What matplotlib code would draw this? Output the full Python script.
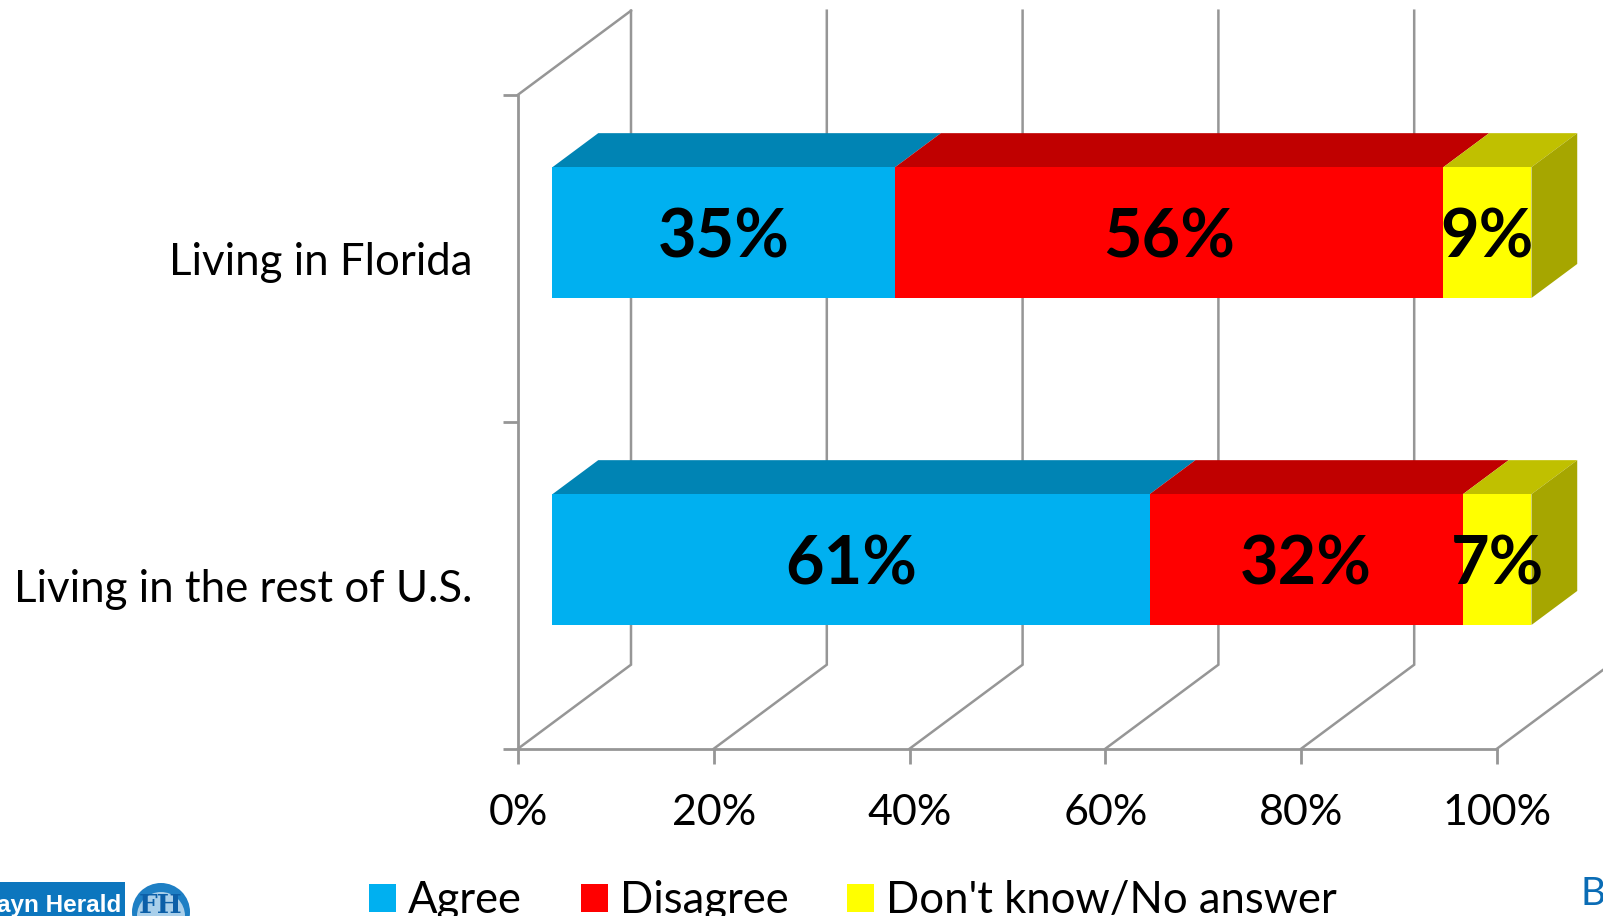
import matplotlib
matplotlib.use("Agg")
import matplotlib.pyplot as plt
from matplotlib.patches import Patch, Rectangle, Circle

categories = ["Living in the rest of U.S.", "Living in Florida"]
series_names = ["Agree", "Disagree", "Don't know/No answer"]
agree = [61, 35]
disagree = [32, 56]
dont_know = [7, 9]
x_ticks = [0, 20, 40, 60, 80, 100]

W, H = 1603, 916
FONT = "Lato"
GRID = "#969696"
front = ["#00B0F0", "#FF0000", "#FFFF00"]
top = ["#0084B4", "#C00000", "#C0C000"]
side = "#A6A600"

fig = plt.figure(figsize=(W / 100, H / 100), dpi=100)
ax = fig.add_axes([518 / W, 1 - 748.7 / H, 979 / W, 654 / H])
ax.set_xlim(0, 100)
ax.set_ylim(0, 2)

DX = 113 / 979 * 100
DY = 84 / 654 * 2


def proj(x, y, d):
    return x + d * DX, y + d * DY


# walls and floor
for s in ("top", "right"):
    ax.spines[s].set_visible(False)
for s in ("left", "bottom"):
    ax.spines[s].set_color(GRID)
    ax.spines[s].set_linewidth(2.0)
ax.patch.set_visible(False)
for t in x_ticks:
    bx, by = proj(t, 0, 1)
    tx, ty = proj(t, 2, 1)
    ax.plot([t, bx, tx], [0, by, ty], color=GRID, lw=1.8, clip_on=False, zorder=1,
            solid_joinstyle="miter")
bx, by = proj(0, 2, 1)
ax.plot([0, bx], [2, by], color=GRID, lw=1.8, clip_on=False, zorder=1)

ax.set_xticks(x_ticks, [f"{t}%" for t in x_ticks], fontsize=31, family=FONT)
ax.set_yticks([0, 1, 2], ["", "", ""])
ax.tick_params(axis="both", color=GRID, width=2.0, length=10.5)
ax.tick_params(axis="x", pad=22)
ax.set_yticks([0.5, 1.5], categories, minor=True, fontsize=31.5, family=FONT)
ax.tick_params(axis="y", which="minor", length=0, pad=33)
for lab in ax.get_yticklabels(minor=True):
    lab.set_verticalalignment("center_baseline")

# bars
D0, D1 = 0.305, 0.71
HALF = 0.2
for i, vals in enumerate(zip(agree, disagree, dont_know)):
    yc = i + 0.5
    lo, hi = yc - HALF, yc + HALF
    left = 0
    for j, v in enumerate(vals):
        right = left + v
        # top face
        pts = [proj(left, hi, D0), proj(right, hi, D0), proj(right, hi, D1), proj(left, hi, D1)]
        ax.fill(*zip(*pts), color=top[j], lw=0, clip_on=False, zorder=3)
        # front face
        pts = [proj(left, lo, D0), proj(right, lo, D0), proj(right, hi, D0), proj(left, hi, D0)]
        ax.fill(*zip(*pts), color=front[j], lw=0, clip_on=False, zorder=4)
        cx, cy = proj((left + right) / 2, yc, D0)
        ax.text(cx, cy, f"{v}%", ha="center", va="center_baseline", fontsize=48, fontweight="bold",
                family=FONT, color="black", zorder=6, clip_on=False)
        left = right
    pts = [proj(left, lo, D0), proj(left, lo, D1), proj(left, hi, D1), proj(left, hi, D0)]
    ax.fill(*zip(*pts), color=side, lw=0, clip_on=False, zorder=3)

# legend
handles = [Patch(facecolor=c, edgecolor="none") for c in front]
fig.legend(handles, series_names, loc="lower left", bbox_to_anchor=(369 / W, -0.006),
           ncol=3, frameon=False, prop={"family": FONT, "size": 31.4},
           handlelength=0.62, handleheight=0.62, handletextpad=0.28, columnspacing=1.34,
           borderpad=0, borderaxespad=0)

# logo fragment, bottom left, and cut-off letter, bottom right
over = fig.add_axes([0, 0, 1, 1], zorder=10)
over.set_xlim(0, W)
over.set_ylim(H, 0)
over.axis("off")
over.add_patch(Rectangle((0, 882), 125, 40, color="#0C76BE", lw=0))
over.text(121, 912, "ayn Herald", ha="right", va="baseline", color="white", fontsize=17.5,
          fontweight="bold", family="Liberation Sans")
over.add_patch(Circle((161, 912), 29, color="#1E7FC4", lw=0))
over.add_patch(Circle((161, 916), 24, color="#A9CFEA", lw=0))
over.text(161, 913, "FH", ha="center", va="baseline", color="#0C5FA8", fontsize=19,
          fontweight="bold", family="DejaVu Serif")
over.text(1581, 905, "B", ha="left", va="baseline", color="#0A6CB5", fontsize=28, family=FONT)

fig.savefig("out.png", dpi=100)
